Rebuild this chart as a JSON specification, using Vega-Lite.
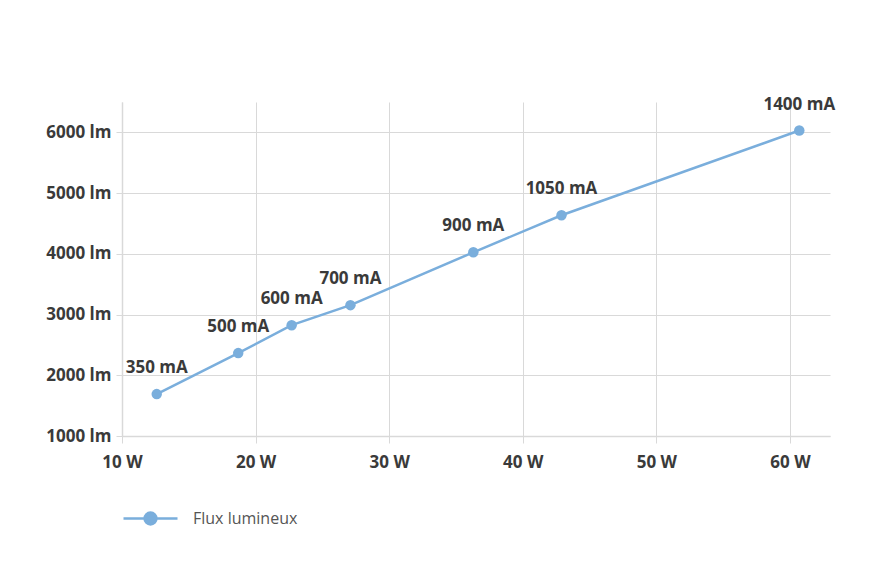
{
  "$schema": "https://vega.github.io/schema/vega-lite/v6.json",
  "width": 708,
  "height": 334,
  "padding": {"left": 122, "top": 102, "right": 63, "bottom": 142},
  "autosize": {"type": "none"},
  "background": "white",
  "config": {
    "view": {"stroke": null},
    "font": "Open Sans"
  },
  "data": {
    "values": [
      {"watts": 12.6, "lumens": 1690, "label": "350 mA", "series": "Flux lumineux"},
      {"watts": 18.7, "lumens": 2365, "label": "500 mA", "series": "Flux lumineux"},
      {"watts": 22.7, "lumens": 2825, "label": "600 mA", "series": "Flux lumineux"},
      {"watts": 27.1, "lumens": 3155, "label": "700 mA", "series": "Flux lumineux"},
      {"watts": 36.3, "lumens": 4025, "label": "900 mA", "series": "Flux lumineux"},
      {"watts": 42.9, "lumens": 4635, "label": "1050 mA", "series": "Flux lumineux"},
      {"watts": 60.7, "lumens": 6030, "label": "1400 mA", "series": "Flux lumineux"}
    ]
  },
  "encoding": {
    "x": {
      "field": "watts", "type": "quantitative",
      "scale": {"domain": [10, 63], "nice": false, "zero": false},
      "axis": {
        "title": null, "values": [10, 20, 30, 40, 50, 60],
        "labelExpr": "datum.value + ' W'",
        "labelFlush": false,
        "domainColor": "#d9d9d9", "domainWidth": 1.5,
        "gridColor": "#d9d9d9", "gridWidth": 1,
        "tickColor": "#d9d9d9", "tickSize": 7,
        "labelFont": "Open Sans", "labelFontWeight": "bold", "labelFontSize": 17,
        "labelColor": "#3a3a3a", "labelPadding": 11
      }
    },
    "y": {
      "field": "lumens", "type": "quantitative",
      "scale": {"domain": [1000, 6500], "nice": false, "zero": false},
      "axis": {
        "title": null, "values": [1000, 2000, 3000, 4000, 5000, 6000],
        "labelExpr": "datum.value + ' lm'",
        "labelFlush": false,
        "domainColor": "#d9d9d9", "domainWidth": 1.5,
        "gridColor": "#d9d9d9", "gridWidth": 1,
        "tickColor": "#d9d9d9", "tickSize": 6,
        "labelFont": "Open Sans", "labelFontWeight": "bold", "labelFontSize": 17,
        "labelColor": "#3a3a3a", "labelPadding": 5
      }
    }
  },
  "layer": [
    {
      "mark": {"type": "line", "strokeWidth": 2.5, "point": {"filled": true, "size": 110, "opacity": 1}},
      "encoding": {
        "color": {
          "field": "series", "type": "nominal",
          "scale": {"range": ["#7aaedc"]},
          "legend": {
            "title": null, "orient": "none", "legendX": 0, "legendY": 388,
            "symbolType": "M -1 0 H 1 M 0.22 0 A 0.22 0.22 0 1 1 -0.22 0 A 0.22 0.22 0 1 1 0.22 0 Z",
            "symbolSize": 2916, "symbolStrokeWidth": 2.5, "symbolFillColor": "#7aaedc",
            "symbolStrokeColor": "#7aaedc",
            "labelFont": "Open Sans", "labelFontSize": 16, "labelColor": "#555555",
            "labelOffset": 14
          }
        }
      }
    },
    {
      "mark": {"type": "text", "dy": -21, "baseline": "alphabetic", "align": "center",
               "font": "Open Sans", "fontWeight": "bold", "fontSize": 17, "color": "#3a3a3a"},
      "encoding": {"text": {"field": "label"}}
    }
  ]
}
